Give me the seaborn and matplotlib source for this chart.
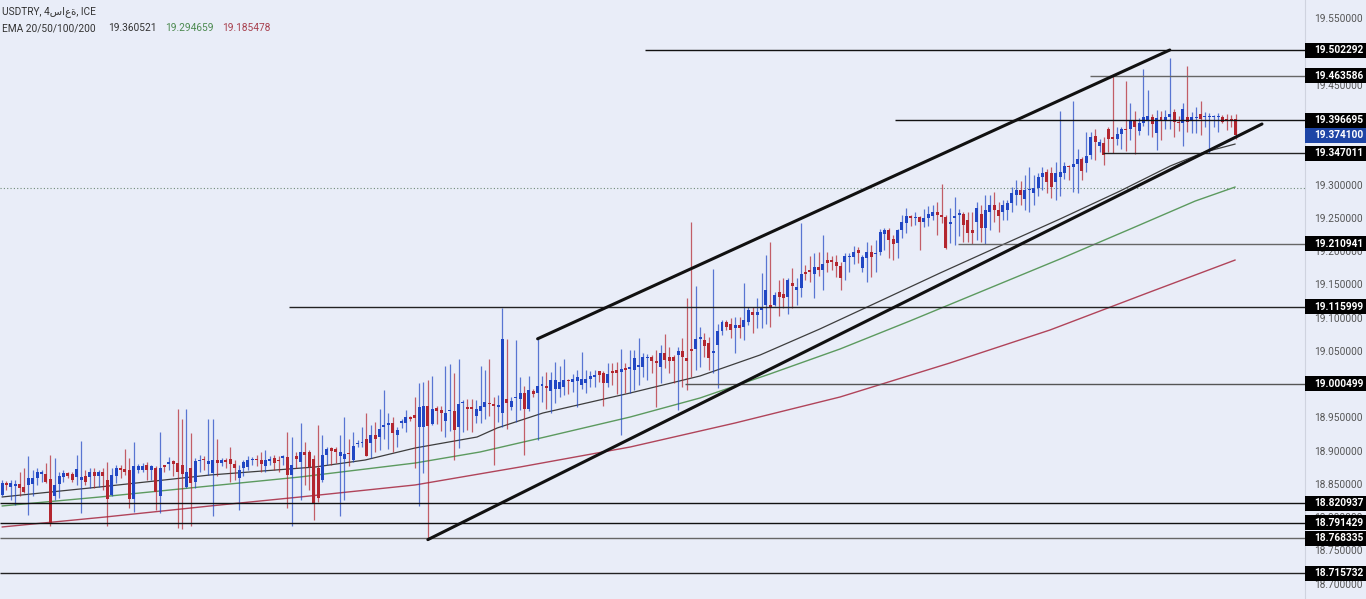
import numpy as np
import pandas as pd
import matplotlib
matplotlib.use("Agg")
import matplotlib.pyplot as plt
import matplotlib.transforms as mtransforms
from matplotlib.patches import Rectangle
import seaborn as sns

# ---------------- data (USDTRY, 4h candles) ----------------
open_ = [
 18.833,18.851,18.845,18.846,18.849,18.845,18.848,18.850,18.858,18.865,18.865,18.857,18.832,18.850,18.860,18.866,
 18.865,18.860,18.856,18.862,18.860,18.867,18.862,18.868,18.856,18.833,18.861,18.873,18.872,18.871,18.827,18.870,
 18.870,18.878,18.871,18.874,18.831,18.878,18.879,18.884,18.881,18.878,18.845,18.873,18.853,18.884,18.887,18.879,
 18.866,18.886,18.881,18.886,18.887,18.879,18.858,18.874,18.875,18.885,18.887,18.885,18.876,18.884,18.888,18.886,
 18.888,18.890,18.863,18.892,18.883,18.898,18.898,18.887,18.873,18.856,18.893,18.904,18.903,18.892,18.887,18.896,
 18.886,18.910,18.911,18.918,18.911,18.923,18.921,18.936,18.939,18.942,18.923,18.942,18.942,18.950,18.953,
 18.936,18.936,18.967,18.940,18.964,18.961,18.945,18.959,18.960,18.935,18.971,18.966,18.965,18.952,18.960,18.965,
 18.972,18.970,18.966,18.956,18.977,18.966,18.979,18.978,18.986,18.962,18.990,18.986,18.997,18.997,18.990,18.992,
 18.993,18.995,19.005,19.003,19.004,18.998,19.002,19.007,19.010,19.019,19.016,19.002,19.020,19.021,19.018,19.024,
 19.022,
 19.021,19.026,19.026,19.039,19.041,19.035,19.026,19.046,19.041,19.041,19.044,19.049,19.039,19.052,19.052,19.067,
 19.066,19.061,19.046,19.059,19.079,19.094,19.091,19.084,19.089,19.086,19.094,19.109,19.104,19.111,19.119,19.119,
 19.119,19.139,19.136,19.131,19.152,19.142,19.144,19.167,19.172,19.166,19.176,19.171,19.186,19.186,19.184,
 19.177,19.183,19.191,19.191,19.202,19.174,19.189,19.199,19.195,19.199,19.226,19.232,19.218,19.212,19.231,19.242,
 19.252,19.249,19.251,19.244,19.249,19.253,19.259,19.254,19.251,19.240,19.249,19.254,19.256,19.246,19.232,19.244,
 19.256,19.234,19.258,19.269,19.262,19.259,19.261,19.272,19.285,19.292,19.278,19.292,19.288,19.295,19.312,19.319,
 19.317,19.304,19.312,19.317,19.328,19.327,19.331,19.339,19.333,19.344,19.373,19.358,19.362,19.383,19.372,19.368,
 19.376,19.383,19.384,19.397,19.381,19.392,19.396,19.401,19.378,19.401,19.396,19.401,19.409,19.394,19.393,19.401,
 19.397,19.400,19.406,19.401,19.401,19.401,19.401,19.401,19.399,19.399,19.398]
high = [
 18.856,18.854,18.856,18.856,18.868,18.873,18.891,18.871,18.873,18.871,18.881,18.893,18.888,18.868,18.871,18.868,
 18.868,18.893,18.915,18.871,18.873,18.873,18.871,18.873,18.883,18.873,18.878,18.878,18.902,18.888,18.913,18.880,
 18.881,18.883,18.878,18.876,18.928,18.878,18.890,18.885,18.962,18.948,18.963,18.926,18.888,18.893,18.891,18.948,
 18.948,18.918,18.888,18.888,18.906,18.886,18.878,18.886,18.891,18.890,18.893,18.898,18.901,18.891,18.893,18.891,
 18.893,18.928,18.921,18.898,18.941,18.913,18.901,18.893,18.938,18.923,18.906,18.906,18.906,18.923,18.950,18.917,
 18.928,18.916,18.936,18.956,18.938,18.943,18.962,18.991,18.956,18.951,18.936,18.948,18.961,18.952,18.981,
 19.001,19.003,19.006,19.012,18.967,18.967,19.027,19.030,19.016,19.038,18.976,18.978,18.978,18.976,19.027,19.021,
 19.037,18.981,18.983,19.115,19.068,18.981,19.066,19.011,18.997,19.012,18.993,19.068,19.012,19.018,19.018,19.033,
 19.027,19.038,19.007,19.015,19.021,19.048,19.021,19.020,19.021,19.020,19.020,19.032,19.031,19.033,19.052,19.032,
 19.051,
 19.051,19.069,19.046,19.045,19.044,19.051,19.059,19.075,19.056,19.044,19.056,19.069,19.129,19.243,19.147,19.086,
 19.076,19.071,19.173,19.091,19.096,19.097,19.099,19.101,19.101,19.152,19.116,19.116,19.129,19.167,19.194,19.214,
 19.139,19.157,19.159,19.159,19.174,19.159,19.242,19.179,19.193,19.197,19.199,19.224,19.199,19.192,19.194,
 19.184,19.197,19.197,19.207,19.206,19.194,19.214,19.209,19.217,19.233,19.234,19.234,19.224,19.233,19.254,19.264,
 19.254,19.258,19.253,19.263,19.268,19.269,19.274,19.301,19.254,19.264,19.281,19.263,19.259,19.259,19.259,19.274,
 19.269,19.284,19.284,19.289,19.274,19.277,19.277,19.296,19.307,19.306,19.314,19.327,19.314,19.317,19.326,19.323,
 19.327,19.334,19.411,19.334,19.329,19.426,19.354,19.341,19.379,19.379,19.384,19.368,19.372,19.387,19.465,19.387,
 19.386,19.455,19.422,19.410,19.400,19.473,19.442,19.406,19.412,19.411,19.412,19.491,19.414,19.403,19.423,19.478,
 19.409,19.417,19.426,19.409,19.408,19.404,19.408,19.404,19.406,19.404,19.406]
low = [
 18.831,18.841,18.826,18.818,18.831,18.836,18.803,18.831,18.848,18.853,18.851,18.786,18.826,18.828,18.853,18.858,
 18.853,18.848,18.806,18.848,18.843,18.843,18.845,18.841,18.786,18.831,18.851,18.858,18.863,18.813,18.807,18.866,
 18.867,18.856,18.856,18.811,18.806,18.868,18.871,18.861,18.783,18.782,18.844,18.786,18.843,18.868,18.871,18.863,
 18.801,18.861,18.876,18.874,18.853,18.856,18.811,18.861,18.871,18.878,18.876,18.868,18.868,18.878,18.871,18.868,
 18.878,18.813,18.786,18.873,18.826,18.848,18.841,18.796,18.823,18.853,18.878,18.878,18.881,18.801,18.826,18.877,
 18.883,18.906,18.906,18.891,18.888,18.898,18.901,18.918,18.903,18.898,18.906,18.934,18.928,18.944,18.874,
 18.816,18.866,18.766,18.938,18.940,18.930,18.921,18.930,18.886,18.904,18.928,18.931,18.928,18.941,18.942,18.948,
 18.952,18.878,18.943,18.936,18.933,18.961,18.943,18.961,18.893,18.959,18.981,18.916,18.973,18.963,18.956,18.971,
 18.981,18.983,18.985,18.988,18.966,18.993,18.987,18.995,18.996,19.003,18.967,18.995,18.999,18.985,18.924,18.986,
 18.986,
 18.991,18.998,19.011,19.006,19.016,18.966,19.001,19.024,19.016,19.001,18.961,18.996,18.991,19.011,19.021,19.026,
 19.041,19.021,19.016,18.994,19.074,19.081,19.069,19.046,19.069,19.066,19.089,19.076,19.084,19.084,19.091,19.086,
 19.117,19.102,19.114,19.106,19.114,19.119,19.131,19.157,19.154,19.129,19.162,19.142,19.169,19.172,19.161,
 19.141,19.156,19.169,19.181,19.182,19.169,19.154,19.161,19.169,19.194,19.202,19.189,19.187,19.189,19.219,19.227,
 19.238,19.239,19.202,19.236,19.237,19.247,19.224,19.242,19.203,19.212,19.209,19.222,19.214,19.214,19.211,19.217,
 19.214,19.211,19.232,19.244,19.228,19.247,19.246,19.258,19.269,19.269,19.262,19.259,19.269,19.282,19.292,19.287,
 19.280,19.277,19.282,19.309,19.307,19.289,19.287,19.307,19.319,19.339,19.337,19.349,19.329,19.349,19.347,19.359,
 19.354,19.351,19.367,19.346,19.374,19.388,19.374,19.371,19.352,19.367,19.384,19.383,19.372,19.381,19.358,19.379,
 19.377,19.377,19.374,19.387,19.347,19.386,19.379,19.392,19.382,19.386,19.368]
close = [
 18.851,18.848,18.851,18.850,18.844,18.837,18.858,18.858,18.867,18.868,18.853,18.791,18.848,18.861,18.866,18.862,
 18.856,18.872,18.860,18.853,18.868,18.861,18.868,18.861,18.827,18.863,18.873,18.870,18.868,18.827,18.877,18.877,
 18.876,18.871,18.876,18.837,18.873,18.875,18.883,18.880,18.868,18.865,18.868,18.851,18.884,18.886,18.885,18.884,
 18.886,18.881,18.886,18.883,18.880,18.874,18.871,18.883,18.886,18.887,18.885,18.879,18.885,18.887,18.881,18.884,
 18.891,18.863,18.878,18.887,18.898,18.893,18.875,18.821,18.828,18.893,18.903,18.900,18.898,18.898,18.895,18.895,
 18.907,18.912,18.913,18.891,18.923,18.918,18.933,18.939,18.942,18.926,18.931,18.945,18.951,18.948,18.949,
 18.966,18.967,18.937,18.963,18.960,18.957,18.956,18.961,18.931,18.970,18.973,18.963,18.962,18.962,18.967,18.973,
 18.970,18.967,18.967,19.067,18.971,18.974,18.981,18.986,18.962,18.991,18.985,18.997,19.000,18.994,19.006,19.006,
 19.003,19.006,19.004,19.007,19.011,19.007,19.008,19.012,19.013,19.014,19.002,19.015,19.017,19.016,19.023,19.021,
 19.026,
 19.039,19.028,19.041,19.041,19.034,19.031,19.046,19.036,19.034,19.034,19.049,19.041,19.034,19.049,19.067,19.071,
 19.057,19.039,19.049,19.079,19.094,19.086,19.081,19.089,19.084,19.096,19.111,19.104,19.109,19.116,19.142,19.114,
 19.134,19.131,19.129,19.157,19.147,19.146,19.165,19.166,19.168,19.176,19.172,19.181,19.182,19.184,19.177,
 19.159,19.192,19.193,19.199,19.197,19.191,19.199,19.191,19.197,19.228,19.232,19.217,19.211,19.231,19.244,19.253,
 19.249,19.251,19.244,19.249,19.256,19.259,19.254,19.251,19.204,19.244,19.252,19.257,19.239,19.227,19.227,19.264,
 19.234,19.261,19.269,19.262,19.253,19.269,19.272,19.287,19.292,19.284,19.292,19.294,19.295,19.312,19.317,19.304,
 19.297,19.317,19.319,19.328,19.326,19.331,19.339,19.321,19.343,19.372,19.364,19.364,19.344,19.369,19.369,19.376,
 19.383,19.382,19.396,19.386,19.392,19.401,19.403,19.391,19.400,19.397,19.402,19.406,19.394,19.392,19.413,19.394,
 19.402,19.402,19.399,19.402,19.402,19.403,19.402,19.394,19.397,19.397,19.374]

# moving averages (candle index, value)
ema_black_idx = [0, 22.3, 47.4, 71.3, 82.7, 94.1, 108.2, 112.8, 123.2, 143.1, 159.0, 172.7, 186.3, 200.0,
                 213.7, 227.3, 241.0, 254.7, 266.1, 274.0, 280.9]
ema_black_val = [18.8301, 18.8452, 18.8632, 18.8752, 18.8857, 18.9038, 18.9203, 18.9339, 18.9564, 18.9865,
                 19.0121, 19.0437, 19.0828, 19.1248, 19.1670, 19.2076, 19.2482, 19.2903, 19.3279, 19.3489, 19.3609]
ema_green_idx = [0, 22.3, 47.4, 67.9, 94.1, 108.9, 123.7, 143.1, 159.0, 174.9, 190.9, 206.8, 223.9, 241.0,
                 257.0, 271.8, 280.9]
ema_green_val = [18.8166, 18.8301, 18.8467, 18.8602, 18.8812, 18.8978, 18.9203, 18.9504, 18.9790, 19.0151,
                 19.0527, 19.0948, 19.1414, 19.1880, 19.2331, 19.2752, 19.2963]
ema_red_idx = [0, 23.5, 47.4, 67.9, 94.1, 118.0, 143.1, 167.0, 190.9, 215.9, 238.7, 261.5, 280.9]
ema_red_val = [18.7850, 18.8000, 18.8166, 18.8301, 18.8482, 18.8752, 18.9053, 18.9414, 18.9805, 19.0316,
               19.0812, 19.1384, 19.1865]

# horizontal levels (price, first candle index)
level_price = [19.502292, 19.463586, 19.396695, 19.347011, 19.210941, 19.115999, 19.000499,
               18.820937, 18.791429, 18.768335, 18.715732]
level_start = [146.5, 247.8, 203.4, 250.8, 217.8, 65.4, 155.6, -1, -1, -1, -1]
level_color = ['#111111', '#666666', '#111111', '#222222', '#666666', '#222222', '#555555',
               '#111111', '#111111', '#666666', '#222222']
last_price = 19.374100
ema_green_last = 19.294659
legend_values = ['19.360521', '19.294659', '19.185478']

# channel lines (candle index, price)
upper_channel = ([122, 266], [19.068, 19.502292])
lower_channel = ([97, 287], [18.766, 19.391])

tick_prices = [18.70, 18.75, 18.80, 18.85, 18.90, 18.95, 19.00, 19.05, 19.10, 19.15,
               19.20, 19.25, 19.30, 19.35, 19.40, 19.45, 19.50, 19.55]

# ---------------- styling ----------------
sns.set_theme(style="white")
plt.rcParams['font.family'] = ['Roboto', 'DejaVu Sans']

BG = '#e9edf8'
UP = '#2147c4'
DOWN = '#b3262f'
W, H = 1366, 599
PLOT_W = 1305

fig = plt.figure(figsize=(W / 100, H / 100), dpi=100, facecolor=BG)
ax = fig.add_axes([0, 0, PLOT_W / W, 1])
ax.set_facecolor(BG)

o = np.array(open_); h = np.array(high); l = np.array(low); c = np.array(close)
n = len(c)
idx = np.arange(n)
up = c >= o
cols = np.where(up, UP, DOWN)

ymin, ymax = 18.6767, 19.5775
ax.set_ylim(ymin, ymax)
xmax_plot = 296.8
ax.set_xlim(-0.46, xmax_plot)
px = (ymax - ymin) / H  # price per pixel

# wicks
ax.vlines(idx, l, h, colors=cols, linewidth=0.9, alpha=0.72, zorder=3)
# bodies
body_bot = np.minimum(o, c)
body_h = np.maximum(np.abs(c - o), px * 1.3)
ax.bar(idx, body_h, bottom=body_bot, width=0.68, color=cols, edgecolor='none', zorder=4)

# EMAs
for xs, ys, col, lw in [(ema_black_idx, ema_black_val, '#3d3d3d', 0.9),
                        (ema_green_idx, ema_green_val, '#5c9a5f', 1.0),
                        (ema_red_idx, ema_red_val, '#b0445a', 1.0)]:
    df = pd.DataFrame({'x': xs, 'y': ys})
    sns.lineplot(data=df, x='x', y='y', ax=ax, color=col, linewidth=lw, sort=True,
                 estimator=None, zorder=2)

# dotted line
ax.axhline(ema_green_last, color='#6f8a78', linestyle=(0, (1, 2)), linewidth=0.8, zorder=1)

# horizontal levels
for p, s, col in zip(level_price, level_start, level_color):
    ax.hlines(p, max(s, -0.46), xmax_plot, colors=col, linewidth=1.0, zorder=5)

# channel
ax.plot(upper_channel[0], upper_channel[1], color='#111111', linewidth=2.2, zorder=6, solid_capstyle='round')
ax.plot(lower_channel[0], lower_channel[1], color='#111111', linewidth=2.2, zorder=6, solid_capstyle='round')

# axes cosmetics
ax.set_xlabel(''); ax.set_ylabel('')
ax.set_xticks([])
ax.yaxis.tick_right()
ax.set_yticks(tick_prices)
ax.set_yticklabels([f'{t:.6f}' for t in tick_prices])
ax.tick_params(axis='y', length=0, pad=6.5, labelsize=7.3, labelcolor='#555555')
for sp in ['top', 'left', 'bottom']:
    ax.spines[sp].set_visible(False)
ax.spines['right'].set_color('#cfd3df')
ax.spines['right'].set_linewidth(0.8)

# price label boxes
trans = mtransforms.blended_transform_factory(fig.transFigure, ax.transData)
box_h = 15 * px
def price_box(price, fc, tc):
    ax.add_patch(Rectangle((PLOT_W / W, price - box_h / 2), 1 - PLOT_W / W, box_h,
                           transform=trans, facecolor=fc, edgecolor='none', clip_on=False, zorder=10))
    ax.text(1314 / W, price, f'{price:.6f}', transform=trans, color=tc, fontsize=7.3,
            fontweight='bold', va='center', ha='left', clip_on=False, zorder=11)

for p in level_price:
    price_box(p, '#000000', '#ffffff')
price_box(last_price, '#1d45a6', '#ffffff')

# header texts
def ftext(xp, yp, s, color='#333333'):
    fig.text(xp / W, 1 - yp / H, s, color=color, fontsize=7.3, va='center', ha='left')

ftext(2, 12, 'USDTRY, 4ساعة, ICE')
ftext(2, 28, 'EMA 20/50/100/200')
ftext(108, 28, legend_values[0], '#333333')
ftext(165, 28, legend_values[1], '#4c8a50')
ftext(222, 28, legend_values[2], '#a8404e')

fig.savefig('out.png', dpi=100, facecolor=BG)
